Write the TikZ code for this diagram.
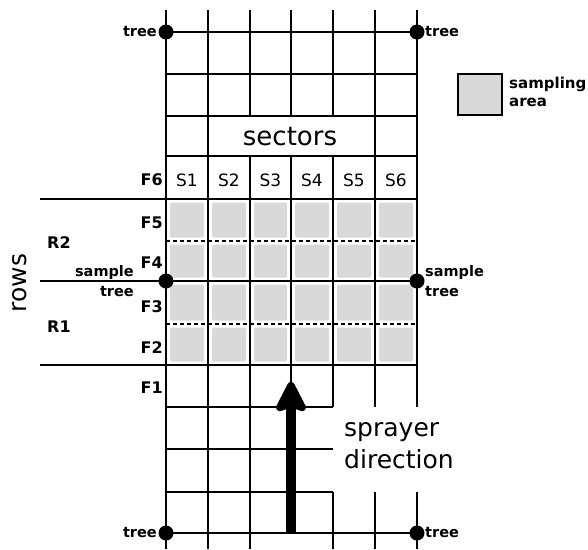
\documentclass[tikz,border=0pt]{standalone}
\usepackage{fontspec}
\setmainfont{DejaVu Sans}
\usetikzlibrary{arrows.meta}
\definecolor{samplegray}{RGB}{217,217,217}
\begin{document}
\begin{tikzpicture}[x=1pt,y=-1pt,
  gridline/.style={line width=2.6pt,black},
  dashline/.style={line width=2.2pt,black,dash pattern=on 4pt off 3pt},
  cellfill/.style={fill=samplegray,draw=none,rounded corners=1.5pt},
  treedot/.style={circle,fill=black,inner sep=0pt,minimum size=15pt},
  smalllab/.style={font=\fontsize{14.5}{20}\selectfont\bfseries,inner sep=0pt},
  flab/.style={font=\fontsize{16}{18}\selectfont\bfseries,inner sep=0pt,anchor=east},
  slab/.style={font=\fontsize{17}{18}\selectfont,inner sep=0pt},
  biglab/.style={font=\fontsize{25}{32}\selectfont,inner sep=0pt}]
\useasboundingbox (0,0) rectangle (588,549);

% grey sampling cells
\foreach \xa/\xb in {166/208,208/250,250/291,291/333,333/375,375/417}{
  \foreach \ya/\yb in {199/241,241/281,281/324,324/365}{
    \fill[cellfill] (\xa+4,\ya+3.5) rectangle (\xb-4,\yb-3.5);
  }
}

% vertical grid lines
\draw[gridline] (166,10) -- (166,549);
\draw[gridline] (208,10) -- (208,549);
\draw[gridline] (250,10) -- (250,116) (250,156) -- (250,549);
\draw[gridline] (291,10) -- (291,116) (291,156) -- (291,385);
\draw[gridline] (333,10) -- (333,116) (333,156) -- (333,407) (333,492) -- (333,549);
\draw[gridline] (375,10) -- (375,407) (375,492) -- (375,549);
\draw[gridline] (417,10) -- (417,407) (417,492) -- (417,549);

% horizontal grid lines
\foreach \y in {32,74,116,156,533}{\draw[gridline] (166,\y) -- (417,\y);}
\foreach \y in {199,281,365}{\draw[gridline] (40,\y) -- (417,\y);}
\foreach \y in {407,449,492}{\draw[gridline] (166,\y) -- (333,\y);}
\foreach \y in {241,324}{\draw[dashline] (166,\y) -- (417,\y);}

% trees
\node[treedot] (tTL) at (166,32) {};
\node[treedot] (tTR) at (417,32) {};
\node[treedot] (tML) at (166,281) {};
\node[treedot] (tMR) at (417,281) {};
\node[treedot] (tBL) at (166,533) {};
\node[treedot] (tBR) at (417,533) {};

\node[smalllab,anchor=east] (lTL) at (157,32) {tree};
\node[smalllab,anchor=west] (lTR) at (425,32) {tree};
\node[smalllab,anchor=east] (lBL) at (157,533) {tree};
\node[smalllab,anchor=west] (lBR) at (425,533) {tree};
\node[smalllab,anchor=east,align=right] (lML) at (134,281) {sample\\tree};
\node[smalllab,anchor=west,align=left] (lMR) at (425,281) {sample\\tree};

% row labels F
\node[flab] (F6) at (163,180) {F6};
\node[flab] (F5) at (163,223) {F5};
\node[flab] (F4) at (163,263) {F4};
\node[flab] (F3) at (163,307) {F3};
\node[flab] (F2) at (163,348) {F2};
\node[flab] (F1) at (163,388) {F1};

% sectors
\node[slab] (S1) at (187,180) {S1};
\node[slab] (S2) at (229,180) {S2};
\node[slab] (S3) at (270.5,180) {S3};
\node[slab] (S4) at (312,180) {S4};
\node[slab] (S5) at (354,180) {S5};
\node[slab] (S6) at (396,180) {S6};
\node[biglab,font=\fontsize{26}{32}\selectfont] (sectors) at (290,137) {sectors};

% rows
\node[flab,anchor=west] (R2) at (47,243) {R2};
\node[flab,anchor=west] (R1) at (47,327) {R1};
\node[biglab,rotate=90] (rows) at (20,283) {rows};

% sprayer
\coordinate (aStart) at (291,533);
\coordinate (aEnd) at (291,382);
\draw[line width=10pt,-{Stealth[width=36pt,length=36pt,inset=6pt,round]}] (aStart) -- (aEnd);
\node[biglab,anchor=west,align=left] (spray) at (344,446) {sprayer\\direction};

% legend
\node[draw=black,line width=2.5pt,fill=samplegray,minimum width=44pt,minimum height=41pt,inner sep=0pt] (leg) at (480,94.5) {};
\node[smalllab,anchor=west,align=left,font=\fontsize{15}{18}\selectfont\bfseries] (legt) at (509,92) {sampling\\area};
\end{tikzpicture}
\end{document}
